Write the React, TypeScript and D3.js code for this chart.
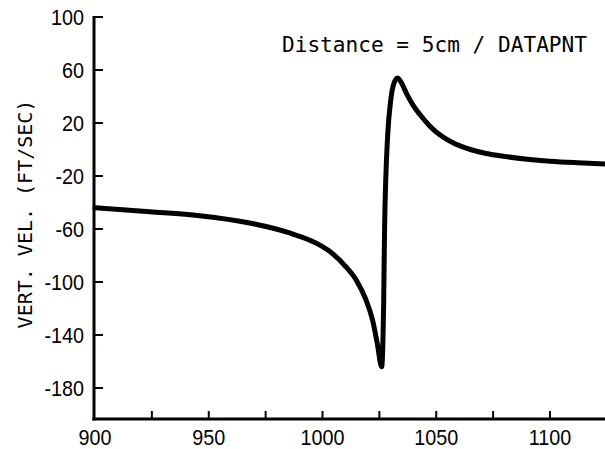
import React from "react";
import * as d3 from "d3";

const xs = [900, 924, 946, 968, 985.5, 998.7, 1004, 1010, 1015, 1019, 1022, 1024.2, 1026, 1026.9, 1027.3, 1027.8, 1028.6, 1030, 1031.3, 1033, 1034.8, 1037, 1040, 1043, 1047, 1052, 1058, 1065, 1072, 1080, 1090, 1100, 1112, 1125];
const ys = [-44, -47, -50, -55.5, -63, -72, -78, -88, -99, -113, -128.7, -147.5, -164, -113.6, -58.5, -23, 9.4, 37.4, 49.4, 54, 50, 42, 33, 26, 18, 10.5, 4.5, 0, -3, -5.2, -7.3, -8.8, -10, -11];
const yTicks = [100, 60, 20, -20, -60, -100, -140, -180];
const xLabelTicks = [900, 950, 1000, 1050, 1100];
const xMinorTicks = [925, 950, 975, 1000, 1025, 1050, 1075, 1100];
const annotation = "Distance = 5cm / DATAPNT";
const yTitle = "VERT. VEL. (FT/SEC)";

export default function App() {
  const W = 605, H = 449;
  const x = d3.scaleLinear().domain([900, 1100]).range([95, 550]);
  const y = d3.scaleLinear().domain([-180, 100]).range([388, 17]);
  const axX = 94;
  const axY = y(-203.4);
  const data = xs.map((v, i) => [v, ys[i]] as [number, number]);
  const line = d3.line<[number, number]>().x(d => x(d[0])).y(d => y(d[1])).curve(d3.curveMonotoneX);
  const labelFont = "'Liberation Sans', Arial, sans-serif";
  const mono = "'DejaVu Sans Mono', monospace";
  return (
    <svg width={W} height={H} style={{ position: "absolute", left: 0, top: 0, background: "#fff" }}>
      <rect width={W} height={H} fill="#fff" />
      <line x1={axX} y1={y(100) - 1} x2={axX} y2={axY + 1.5} stroke="#000" strokeWidth={3} />
      <line x1={axX - 1.5} y1={axY} x2={W} y2={axY} stroke="#000" strokeWidth={3} />
      {yTicks.map(t => (
        <g key={"yt" + t}>
          <line x1={axX} x2={axX + 9} y1={y(t)} y2={y(t)} stroke="#000" strokeWidth={2} />
          <text x={84} y={y(t)} dy="0.36em" textAnchor="end" fontFamily={labelFont} fontSize={22} fill="#000" transform={`translate(${84},0) scale(0.9,1) translate(${-84},0)`}>{t}</text>
        </g>
      ))}
      {xMinorTicks.map(t => (
        <line key={"xt" + t} x1={x(t)} x2={x(t)} y1={axY} y2={axY - 8} stroke="#000" strokeWidth={2} />
      ))}
      {xLabelTicks.map(t => (
        <text key={"xl" + t} x={x(t)} y={437} dy="0.36em" textAnchor="middle" fontFamily={labelFont} fontSize={22} fill="#000" transform={`translate(${x(t)},0) scale(0.9,1) translate(${-x(t)},0)`}>{t}</text>
      ))}
      <path d={line(data) || ""} fill="none" stroke="#000" strokeWidth={5} strokeLinecap="round" strokeLinejoin="round" />
      <text x={282} y={52} fontFamily={mono} fontSize={21} fill="#000" textLength={305} lengthAdjust="spacingAndGlyphs">{annotation}</text>
      <text transform={`translate(32,214) rotate(-90)`} textAnchor="middle" fontFamily={mono} fontSize={20} fill="#000">{yTitle}</text>
    </svg>
  );
}
